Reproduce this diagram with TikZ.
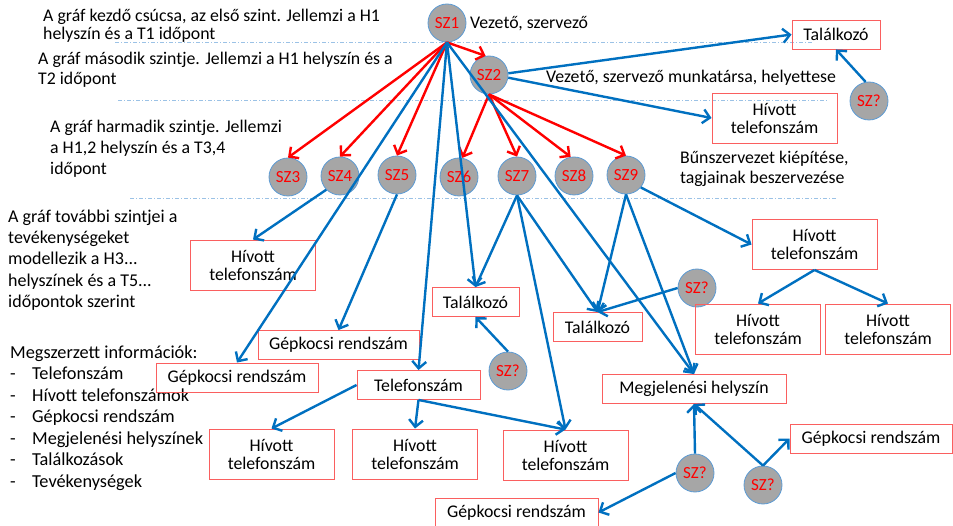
\documentclass[tikz,border=0pt]{standalone}
\usepackage{fontspec}
\setmainfont{Carlito}
\usetikzlibrary{arrows.meta}
\definecolor{linkblue}{RGB}{0,112,192}
\definecolor{linkred}{RGB}{255,0,0}
\definecolor{boxred}{RGB}{250,95,95}
\definecolor{ringblue}{RGB}{91,155,213}
\definecolor{persongray}{RGB}{166,166,166}
\definecolor{levelblue}{RGB}{155,194,230}
\tikzset{
  person/.style={circle, draw=ringblue, line width=0.8pt, fill=persongray, text=linkred,
    minimum size=38pt, inner sep=0pt, font=\fontsize{17}{18}\selectfont},
  infobox/.style={draw=boxred, line width=0.9pt, align=center, minimum height=29pt, inner sep=1pt},
  callbox/.style={infobox, minimum width=125pt, minimum height=50pt},
  note/.style={align=left, anchor=west, inner sep=0pt},
  red link/.style={linkred, line width=2.4pt, -{Straight Barb[length=7pt,width=14pt]}},
  blue link/.style={linkblue, line width=2.4pt, -{Straight Barb[length=7pt,width=14pt]}},
  level line/.style={levelblue, line width=0.8pt, dash pattern=on 4pt off 2pt on 1pt off 2pt}
}

\begin{document}
\begin{tikzpicture}[x=1pt,y=-1pt, every node/.style={font=\fontsize{17.8}{18}\selectfont}]
    \useasboundingbox (0,0) rectangle (953,526);

    % levels
    \draw[level line] (115,42) -- (813,42);
    \draw[level line] (118,100) -- (827,100);
    \draw[level line] (130,198) -- (837,198);

    % explanations
    \node[note] at (43,26)  (lvl1) {A gráf kezdő csúcsa, az első szint. Jellemzi a H1\\helyszín és a T1 időpont};
    \node[note] at (470,24) (lead) {Vezető, szervező};
    \node[note, font=\fontsize{17.8}{20}\selectfont] at (38,70) (lvl2) {A gráf második szintje. Jellemzi a H1 helyszín és a\\T2 időpont};
    \node[note] at (546,78) (deputy) {Vezető, szervező munkatársa, helyettese};
    \node[note, font=\fontsize{17.8}{21}\selectfont] at (50,149) (lvl3) {A gráf harmadik szintje. Jellemzi\\a H1,2 helyszín és a T3,4\\időpont};
    \node[note, font=\fontsize{17.8}{20}\selectfont] at (680,169) (build) {Bűnszervezet kiépítése,\\tagjainak beszervezése};
    \node[note, font=\fontsize{18}{21.3}\selectfont] at (8,260) (lvl4) {A gráf további szintjei a\\tevékenységeket\\modellezik a H3...\\helyszínek és a T5...\\időpontok szerint};
    \node[note, font=\fontsize{18.3}{21.5}\selectfont] at (10,418) (gathered) {Megszerzett információk:\\
      \makebox[22pt][l]{-}Telefonszám\\
      \makebox[22pt][l]{-}Hívott telefonszámok\\
      \makebox[22pt][l]{-}Gépkocsi rendszám\\
      \makebox[22pt][l]{-}Megjelenési helyszínek\\
      \makebox[22pt][l]{-}Találkozások\\
      \makebox[22pt][l]{-}Tevékenységek};

    % persons
    \node[person] at (447,23)  (sz1) {SZ1};
    \node[person] at (489,75)  (sz2) {SZ2};
    \node[person] at (288,177) (sz3) {SZ3};
    \node[person] at (340,176) (sz4) {SZ4};
    \node[person] at (397,175) (sz5) {SZ5};
    \node[person] at (459,177) (sz6) {SZ6};
    \node[person] at (517,176) (sz7) {SZ7};
    \node[person] at (574,176) (sz8) {SZ8};
    \node[person] at (626,175) (sz9) {SZ9};
    \node[person] at (869,101) (szq1) {SZ?};
    \node[person] at (697,288) (szq2) {SZ?};
    \node[person] at (508,371) (szq3) {SZ?};
    \node[person] at (695,473) (szq4) {SZ?};
    \node[person] at (763,485) (szq5) {SZ?};

    % information
    \node[infobox, minimum width=88pt]  at (836,34.5)  (meet1) {Találkozó};
    \node[callbox] at (774.5,118) (call1) {Hívott\\telefonszám};
    \node[callbox] at (253,265)   (call2) {Hívott\\telefonszám};
    \node[infobox, minimum width=87pt]  at (475.5,302) (meet2) {Találkozó};
    \node[infobox, minimum width=89pt]  at (597.5,327) (meet3) {Találkozó};
    \node[infobox, minimum width=161pt] at (338.5,345) (car1) {Gépkocsi rendszám};
    \node[infobox, minimum width=162pt] at (237,377.5) (car2) {Gépkocsi rendszám};
    \node[infobox, minimum width=123pt] at (418.5,385) (phone) {Telefonszám};
    \node[callbox] at (271.5,454) (call3) {Hívott\\telefonszám};
    \node[callbox] at (415,454)   (call4) {Hívott\\telefonszám};
    \node[callbox] at (565.5,455) (call5) {Hívott\\telefonszám};
    \node[callbox] at (814.5,244.5) (call6) {Hívott\\telefonszám};
    \node[callbox] at (758,329)   (call7) {Hívott\\telefonszám};
    \node[callbox] at (888,329)   (call8) {Hívott\\telefonszám};
    \node[infobox, minimum width=184pt] at (694,389)   (place) {Megjelenési helyszín};
    \node[infobox, minimum width=162pt] at (871,438.5) (car3) {Gépkocsi rendszám};
    \node[infobox, minimum width=163pt] at (516.5,512.5) (car4) {Gépkocsi rendszám};

    % hierarchy
    \draw[red link] (sz1.south) -- (sz2.100);
    \draw[red link] (sz1.south) -- (sz3.north);
    \draw[red link] (sz1.south) -- (sz4.north);
    \draw[red link] (sz1.south) -- (sz5.north);
    \draw[red link] (sz2.south) -- (sz6.80);
    \draw[red link] (sz2.south) -- (sz7.north);
    \draw[red link] (sz2.south) -- (sz8.100);
    \draw[red link] (sz2.south) -- (sz9.north);

    % activities
    \draw[blue link] (sz2.5) -- (meet1.west);
    \draw[blue link] (sz2.-8) -- (call1.west);
    \draw[blue link] (szq1.100) -- (meet1.south);
    \draw[blue link] (sz4.south west) -- (call2.north);
    \draw[blue link] (sz1.south) -- (car2.north);
    \draw[blue link] (sz5.south) -- (car1.north);
    \draw[blue link] (sz1.south) -- (phone.north);
    \draw[blue link] (sz1.south) -- (meet2.north);
    \draw[blue link] (sz1.south) -- (place.north);
    \draw[blue link] (sz7.south) -- (meet2.north);
    \draw[blue link] (sz7.south) -- (meet3.north);
    \draw[blue link] (sz7.south) -- (call5.north);
    \draw[blue link] (sz9.south) -- (meet3.north);
    \draw[blue link] (sz9.south) -- (place.north);
    \draw[blue link] (sz9.-40) -- (call6.west);
    \draw[blue link] (szq2.west) -- (meet3.north);
    \draw[blue link] (call6.south) -- (call7.north);
    \draw[blue link] (call6.south) -- (call8.north);
    \draw[blue link] (szq3.north) -- (meet2.south);
    \draw[blue link] (phone.west) -- (call3.north);
    \draw[blue link] (phone.south) -- (call4.north);
    \draw[blue link] (phone.south) -- (call5.north);
    \draw[blue link] (szq4.north) -- (place.south);
    \draw[blue link] (szq4.west) -- (car4.east);
    \draw[blue link] (szq5.north) -- (place.south);
    \draw[blue link] (szq5.north) -- (car3.west);
\end{tikzpicture}
\end{document}
